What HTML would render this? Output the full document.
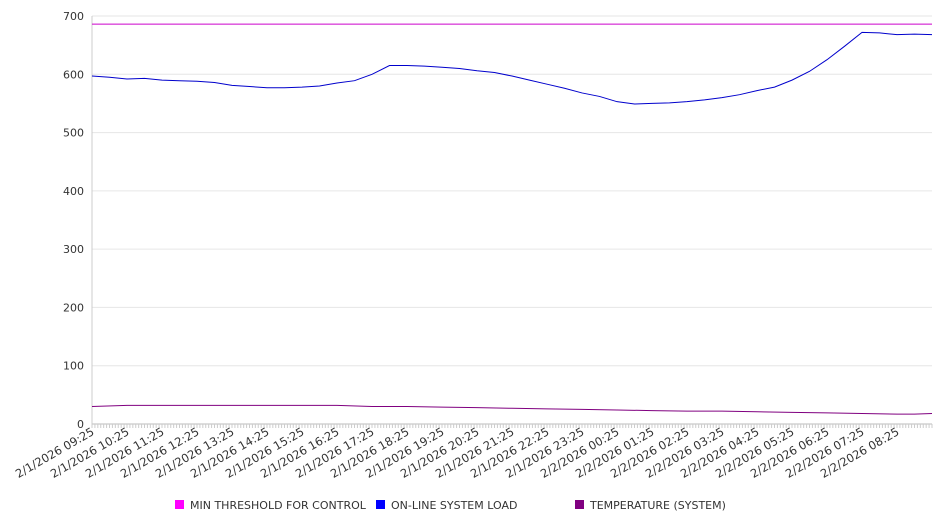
<!DOCTYPE html>
<html><head><meta charset="utf-8"><style>
body{margin:0;background:#fff;font-family:"DejaVu Sans","Liberation Sans",sans-serif;}
svg text{font-family:"DejaVu Sans","Liberation Sans",sans-serif;fill:#333;}
</style></head><body>
<svg id="chart" width="946" height="526" xmlns="http://www.w3.org/2000/svg"></svg>
<script>
const yTicks=[0,100,200,300,400,500,600,700];
const xLabels=["2/1/2026 09:25","2/1/2026 10:25","2/1/2026 11:25","2/1/2026 12:25","2/1/2026 13:25","2/1/2026 14:25","2/1/2026 15:25","2/1/2026 16:25","2/1/2026 17:25","2/1/2026 18:25","2/1/2026 19:25","2/1/2026 20:25","2/1/2026 21:25","2/1/2026 22:25","2/1/2026 23:25","2/2/2026 00:25","2/2/2026 01:25","2/2/2026 02:25","2/2/2026 03:25","2/2/2026 04:25","2/2/2026 05:25","2/2/2026 06:25","2/2/2026 07:25","2/2/2026 08:25"];
// half-hourly samples (hours from 09:25)
const loadHours=[0,0.5,1,1.5,2,2.5,3,3.5,4,4.5,5,5.5,6,6.5,7,7.5,8,8.5,9,9.5,10,10.5,11,11.5,12,12.5,13,13.5,14,14.5,15,15.5,16,16.5,17,17.5,18,18.5,19,19.5,20,20.5,21,21.5,22,22.5,23,23.5,24];
const loadValues=[597,595,592,593,590,589,588,586,581,579,577,577,578,580,585,589,600,615,615,614,612,610,606,603,597,590,583,576,568,562,553,549,550,551,553,556,560,565,572,578,590,605,625,648,672,671,668,669,668];
const tempHours=[0,1,7,8,9,10,11,12,13,14,15,16,17,18,19,20,21,22,23,23.5,24];
const tempValues=[30,32,32,30,30,29,28,27,26,25,24,23,22,22,21,20,19,18,17,17,18];
const thresholdValue=686;
const legendNames=["MIN THRESHOLD FOR CONTROL","ON-LINE SYSTEM LOAD","TEMPERATURE (SYSTEM)"];
const legendColors=["#ff00ff","#0000ff","#800080"];

const svg=document.getElementById('chart');
const NS="http://www.w3.org/2000/svg";
const X0=92,X1=932,Y0=424,Y1=16,HOURS=24;
const xs=h=>X0+(X1-X0)*h/HOURS;
const ys=v=>Y0-(Y0-Y1)*v/700;
function mk(t,a,p){const e=document.createElementNS(NS,t);for(const k in a)e.setAttribute(k,a[k]);(p||svg).appendChild(e);return e;}

yTicks.forEach(v=>{
  const g=mk('line',{x1:X0,x2:X1,y1:ys(v),y2:ys(v),stroke:v===0?'#bbb':'#e6e6e6','stroke-width':1});
  
  
  const t=mk('text',{x:84,y:ys(v)+4,'text-anchor':'end','font-size':11});
  t.textContent=v;
  
  
});
const ax=mk('line',{x1:X0,x2:X0,y1:Y1,y2:Y0,stroke:'#ccc'});


for(let i=0;i<=HOURS*12;i++){
  const x=xs(i/12);
  const tk=mk('line',{x1:x,x2:x,y1:Y0,y2:Y0+4,stroke:'#ccc'});
  
  
}
xLabels.forEach((l,i)=>{
  const x=xs(i)+3,y=Y0+10;
  const t=mk('text',{x:x,y:y,'text-anchor':'end','font-size':11.5,transform:`rotate(-30 ${x} ${y})`});
  t.textContent=l;
  
  
});
const n=Math.min(loadHours.length,loadValues.length);
let d='';for(let i=0;i<n;i++)d+=(i?'L':'M')+xs(loadHours[i])+' '+ys(loadValues[i]);
const ld=mk('path',{d:d,fill:'none',stroke:'#0000cc','stroke-width':1});


let d2='';tempHours.forEach((h,i)=>d2+=(i?'L':'M')+xs(h)+' '+ys(tempValues[i]));
const tp=mk('path',{d:d2,fill:'none',stroke:'#800080','stroke-width':1});


const th=mk('line',{x1:X0,x2:X1,y1:ys(thresholdValue),y2:ys(thresholdValue),stroke:'#cc00cc','stroke-width':1});


const lx=[175,376,575];
legendNames.forEach((nm,i)=>{
  const r=mk('rect',{x:lx[i],y:500,width:9,height:9,fill:legendColors[i]});
  
  
  const t=mk('text',{x:lx[i]+15,y:509,'font-size':11});
  t.textContent=nm;
  
  
});
</script>
</body></html>
